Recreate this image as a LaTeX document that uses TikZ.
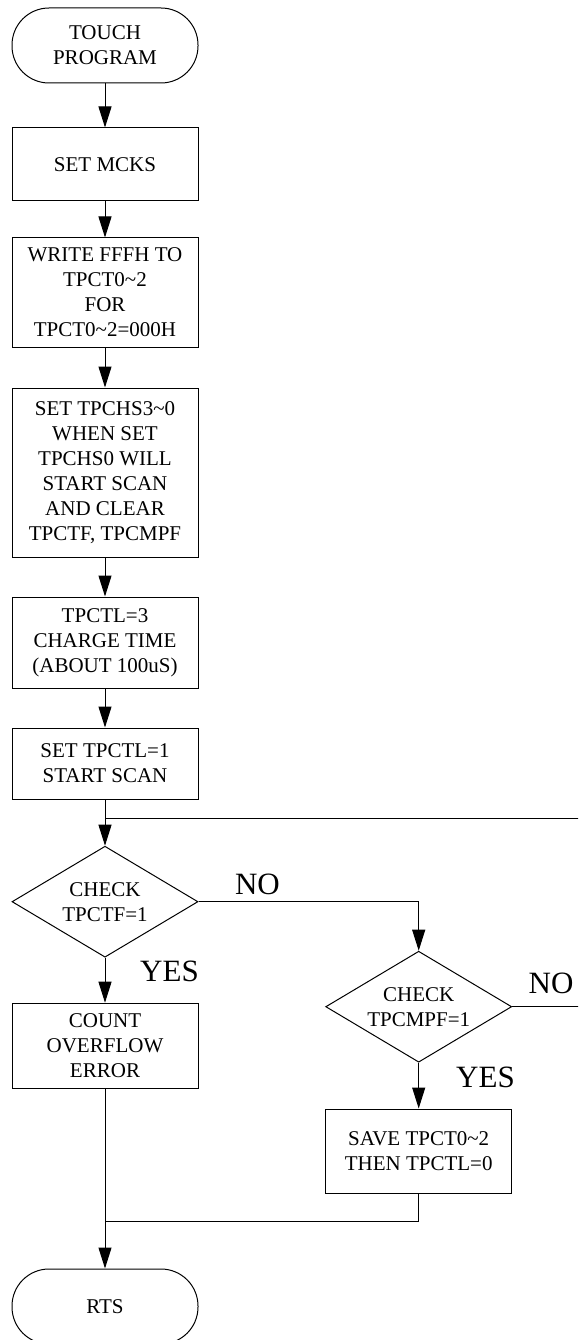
\documentclass[tikz,border=0pt]{standalone}
\usepackage{fontspec}
\setmainfont{Liberation Serif}
\usetikzlibrary{arrows.meta,positioning,shapes.geometric,calc}

\begin{document}
\begin{tikzpicture}[x=1pt,y=-1pt,
    box/.style={draw,line width=1pt,minimum width=186pt,inner sep=2pt,
                font=\fontsize{21}{25}\selectfont,align=center},
    term/.style={box,rounded corners=37pt,minimum height=75pt},
    cond/.style={diamond,draw,line width=1pt,aspect=1.67,inner sep=0pt,
                 minimum width=186pt,minimum height=111pt,
                 font=\fontsize{21}{25}\selectfont,align=center},
    arr/.style={-{Triangle[length=21pt,width=13pt]},line width=1pt},
    line/.style={line width=1pt},
    lbl/.style={font=\fontsize{31}{36}\selectfont,inner sep=0pt}]
    \useasboundingbox (0,0) rectangle (578,1340);
    \clip (0,0) rectangle (578,1340);
    % main column
    \node[term] (start) at (105,45.5) {TOUCH\\PROGRAM};
    \node[box,minimum height=73pt] (mcks) at (105,164.5) {SET MCKS};
    \node[box,minimum height=109pt] (tpct) at (105,292.5)
      {WRITE FFFH TO\\TPCT0\textasciitilde2\\FOR\\TPCT0\textasciitilde2=000H};
    \node[box,minimum height=169pt] (chs) at (105,472.5)
      {SET TPCHS3\textasciitilde0\\WHEN SET\\TPCHS0 WILL\\START SCAN\\AND CLEAR\\TPCTF, TPCMPF};
    \node[box,minimum height=91pt] (charge) at (105,642.5)
      {TPCTL=3\\CHARGE TIME\\(ABOUT 100uS)};
    \node[box,minimum height=71pt] (scan) at (105,763.5) {SET TPCTL=1\\START SCAN};
    \node[cond] (ctf) at (105,901.7) {CHECK\\TPCTF=1};
    \node[box,minimum height=85pt] (ovf) at (105,1045.7) {COUNT\\OVERFLOW\\ERROR};
    \node[term] (rts) at (105,1306.5) {RTS};
    % right branch
    \node[cond] (cmpf) at (418.7,1006.7) {CHECK\\TPCMPF=1};
    \node[box,minimum height=84pt] (save) at (418.7,1151)
      {SAVE TPCT0\textasciitilde2\\THEN TPCTL=0};
    \node[lbl] (no1) at (257.5,884.5) {NO};
    \node[lbl] (yes1) at (169.5,971) {YES};
    \node[lbl] (no2) at (551,983.3) {NO};
    \node[lbl] (yes2) at (485.5,1077) {YES};
    \draw[arr] (start) -- (mcks); \draw[arr] (mcks) -- (tpct);
    \draw[arr] (tpct) -- (chs); \draw[arr] (chs) -- (charge);
    \draw[arr] (charge) -- (scan); \draw[arr] (scan) -- (ctf);
    \coordinate (back) at (105,818.3);
    \coordinate (edge) at (600,818.3);
    \draw[line] (cmpf.east) -| (edge) -- (back);
    \draw[arr] (ctf.east) -| (cmpf.north);
    \draw[arr] (ctf) -- (ovf);
    \draw[arr] (cmpf) -- (save);
    \coordinate (join) at (105,1221);
    \draw[line] (save.south) |- (join);
    \draw[arr] (ovf) -- (rts);
\end{tikzpicture}
\end{document}
